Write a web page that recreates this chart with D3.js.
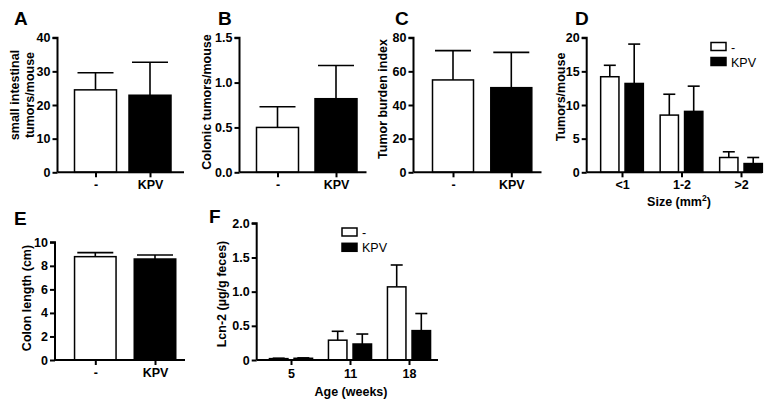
<!DOCTYPE html>
<html><head><meta charset="utf-8">
<script src="https://cdn.jsdelivr.net/npm/d3@7"></script>
<style>
html,body{margin:0;padding:0;background:#fff;}
svg text{font-family:"Liberation Sans",Arial,sans-serif;fill:#000;}
</style></head>
<body>
<svg id="c" width="770" height="409"></svg>
<script>
// ---------- data ----------
const groups = ["-", "KPV"];
const seriesNames = ["-", "KPV"];

const aMean = [24.5, 22.9];
const aErr  = [5.1, 9.8];
const aTicks = [0, 10, 20, 30, 40];

const bMean = [0.50, 0.82];
const bErr  = [0.23, 0.37];
const bTicks = ["0.0", "0.5", "1.0", "1.5"];

const cMean = [54.9, 50.3];
const cErr  = [17.4, 21.0];
const cTicks = [0, 20, 40, 60, 80];

const dCats = ["<1", "1-2", ">2"];
const dCtrl = [14.2, 8.5, 2.2];
const dCtrlErr = [1.7, 3.1, 0.85];
const dKpv  = [13.2, 9.05, 1.3];
const dKpvErr = [5.85, 3.75, 0.9];
const dTicks = [0, 5, 10, 15, 20];

const eMean = [8.78, 8.58];
const eErr  = [0.34, 0.34];
const eTicks = [0, 2, 4, 6, 8, 10];

const fCats = ["5", "11", "18"];
const fCtrl = [0.02, 0.29, 1.07];
const fCtrlErr = [0.006, 0.13, 0.32];
const fKpv  = [0.025, 0.234, 0.43];
const fKpvErr = [0.006, 0.146, 0.25];
const fTicks = ["0", "0.5", "1.0", "1.5", "2.0"];

// ---------- drawing ----------
const svg = d3.select("#c");
const colors = ["#fff", "#000"];

function panel(cfg) {
  const g = svg.append("g");
  const y = d3.scaleLinear().domain([0, cfg.max]).range([cfg.yB, cfg.yT]);
  const x = d3.scalePoint().domain(cfg.cats).range([cfg.c0, cfg.c1]);
  const nS = cfg.series.length;
  cfg.series.forEach((s, si) => {
    const off = nS === 1 ? 0 : (si - (nS - 1) / 2) * cfg.off * 2;
    s.vals.forEach((v, i) => {
      const cx = x(cfg.cats[i]) + off;
      const col = nS === 1 ? colors[i] : colors[si];
      const top = y(v + s.err[i]);
      g.append("line").attr("x1", cx).attr("x2", cx).attr("y1", y(v)).attr("y2", top)
        .attr("stroke", "#000").attr("stroke-width", 1.6);
      g.append("line").attr("x1", cx - cfg.cap / 2).attr("x2", cx + cfg.cap / 2)
        .attr("y1", top).attr("y2", top).attr("stroke", "#000").attr("stroke-width", 1.6);
      g.append("rect").attr("x", cx - cfg.bw / 2).attr("width", cfg.bw)
        .attr("y", y(v)).attr("height", Math.max(0.5, cfg.yB - y(v)))
        .attr("fill", col).attr("stroke", "#000").attr("stroke-width", 1.5);
    });
  });
  // y axis
  const tv = cfg.ticks.map(Number);
  const ya = d3.axisLeft(y).tickValues(tv).tickSize(5).tickPadding(2)
    .tickFormat((d, i) => cfg.ticks[i]);
  const yg = g.append("g").attr("transform", `translate(${cfg.x0},0)`).call(ya);
  yg.select(".domain").attr("stroke-width", 2).attr("d", `M-5,${cfg.yT}H0V${cfg.yB}`);
  yg.selectAll(".tick line").attr("stroke-width", 2);
  yg.selectAll(".tick text").attr("font-size", 12.5).attr("font-weight", "bold").attr("fill", "#000");
  // x axis
  const xa = d3.axisBottom(x).tickSize(5).tickPadding(4);
  const xg = g.append("g").attr("transform", `translate(0,${cfg.yB})`).call(xa);
  xg.select(".domain").attr("stroke-width", 2).attr("d", `M${cfg.x0},0H${cfg.x1}`);
  xg.selectAll(".tick line").attr("stroke-width", 2);
  xg.selectAll(".tick text").attr("font-size", 12.5).attr("font-weight", "bold").attr("fill", "#000")
    .attr("dy", null).attr("y", cfg.tickLblY);
  // y title
  cfg.yTitle.forEach((t, i) => {
    g.append("text").attr("transform", `translate(${cfg.yTitleX[i]},${cfg.yTitleY}) rotate(-90)`)
      .attr("text-anchor", "middle").attr("font-size", 12.5).attr("font-weight", "bold").text(t);
  });
  // letter
  g.append("text").attr("x", cfg.letterX).attr("y", cfg.letterY).attr("font-size", 19)
    .attr("font-weight", "bold").text(cfg.letter);
  // x title
  if (cfg.xTitle) {
    const t = g.append("text").attr("x", cfg.xTitleX).attr("y", cfg.xTitleY)
      .attr("text-anchor", "middle").attr("font-size", 12.5).attr("font-weight", "bold");
    cfg.xTitle.forEach(p => {
      const ts = t.append("tspan").text(p.t);
      if (p.sup) ts.attr("font-size", 8.5).attr("baseline-shift", "super");
    });
  }
  // legend
  if (cfg.legend) {
    seriesNames.forEach((n, i) => {
      const ly = cfg.legend.y + i * cfg.legend.dy;
      g.append("rect").attr("x", cfg.legend.x).attr("y", ly).attr("width", 15).attr("height", 8)
        .attr("fill", colors[i]).attr("stroke", "#000").attr("stroke-width", 1.5);
      g.append("text").attr("x", cfg.legend.x + 20).attr("y", ly + 9).attr("font-size", 12.5).text(n);
    });
  }
}

panel({letter:"A", letterX:14, letterY:25, x0:57.5, x1:184, yT:37.7, yB:172.3, max:40, ticks:aTicks,
  cats:groups, c0:95.5, c1:150, bw:42, cap:36, series:[{vals:aMean, err:aErr}], tickLblY:17,
  yTitle:["small intestinal","tumors/mouse"], yTitleX:[18.5,33.5], yTitleY:95});
panel({letter:"B", letterX:218, letterY:25, x0:239.5, x1:366.5, yT:37.7, yB:172.3, max:1.5, ticks:bTicks,
  cats:groups, c0:277.5, c1:336, bw:42, cap:36, series:[{vals:bMean, err:bErr}], tickLblY:17,
  yTitle:["Colonic tumors/mouse"], yTitleX:[210.5], yTitleY:102});
panel({letter:"C", letterX:395, letterY:25, x0:413.5, x1:541.5, yT:37.7, yB:172.3, max:80, ticks:cTicks,
  cats:groups, c0:453, c1:511.3, bw:41, cap:36, series:[{vals:cMean, err:cErr}], tickLblY:17,
  yTitle:["Tumor burden index"], yTitleX:[387], yTitleY:99});
panel({letter:"D", letterX:575, letterY:25, x0:586.7, x1:762, yT:37.7, yB:172.3, max:20, ticks:dTicks,
  cats:dCats, c0:622, c1:741, bw:18.3, off:12.2, cap:12,
  series:[{vals:dCtrl, err:dCtrlErr},{vals:dKpv, err:dKpvErr}], tickLblY:17,
  yTitle:["Tumors/mouse"], yTitleX:[565], yTitleY:97,
  xTitle:[{t:"Size (mm"},{t:"2",sup:true},{t:")"}], xTitleX:679, xTitleY:206,
  legend:{x:711, y:42.5, dy:15}});
panel({letter:"E", letterX:14, letterY:225, x0:55, x1:185, yT:242.3, yB:360, max:10, ticks:eTicks,
  cats:groups, c0:95.3, c1:155, bw:41.5, cap:36, series:[{vals:eMean, err:eErr}], tickLblY:17,
  yTitle:["Colon length (cm)"], yTitleX:[31], yTitleY:298});
panel({letter:"F", letterX:209, letterY:223, x0:256.7, x1:438, yT:223.3, yB:360, max:2.0, ticks:fTicks,
  cats:fCats, c0:291, c1:409, bw:18.5, off:12.3, cap:12,
  series:[{vals:fCtrl, err:fCtrlErr},{vals:fKpv, err:fKpvErr}], tickLblY:18,
  yTitle:["Lcn-2 (µg/g feces)"], yTitleX:[226], yTitleY:294,
  xTitle:[{t:"Age (weeks)"}], xTitleX:351, xTitleY:396,
  legend:{x:342, y:228, dy:15.3}});
</script>
</body></html>
